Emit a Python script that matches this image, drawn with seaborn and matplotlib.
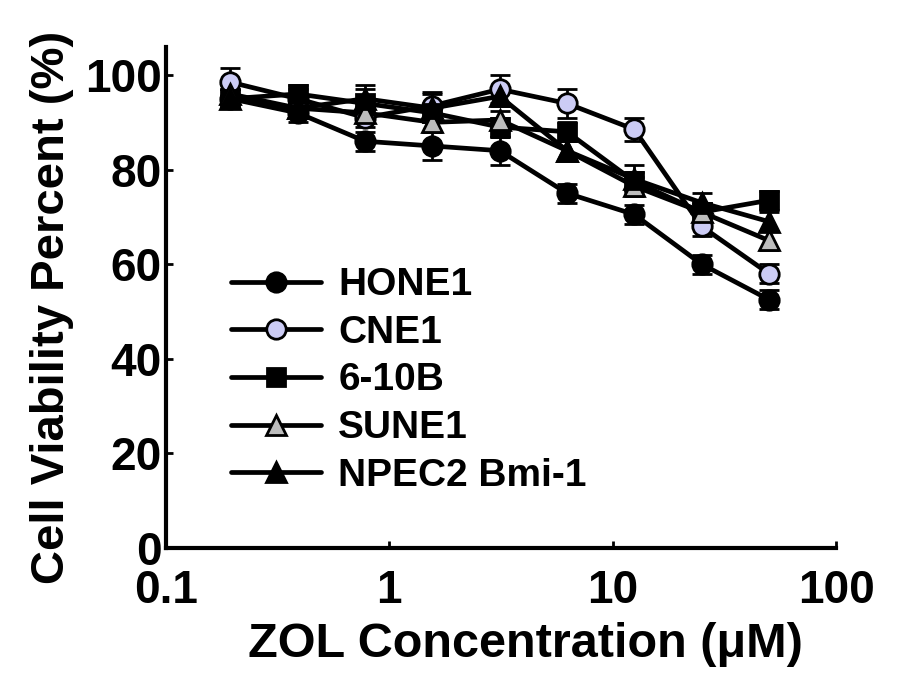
import pandas as pd
import seaborn as sns
import matplotlib.pyplot as plt

# Data
conc = [0.195, 0.39, 0.78, 1.56, 3.125, 6.25, 12.5, 25, 50]
hone1 = [95, 92, 86, 85, 84, 75, 70.5, 60, 52.5]
cne1 = [98.5, 95, 91, 93.5, 97, 94, 88.5, 68, 58]
b610 = [95, 96, 94, 92, 89, 88, 77.5, 71, 73.5]
sune1 = [96, 93, 92, 90, 90.5, 84, 76.5, 71, 65]
npec2 = [95, 93, 95, 93, 95.5, 84, 78, 73, 69]

hone1_sd = [2, 2, 2, 3, 3, 2, 2, 2, 2]
cne1_sd = [3, 2, 2, 3, 3, 3, 2.5, 2, 2]
b610_sd = [2, 2, 3, 2, 2, 2, 2, 2, 2]
sune1_sd = [2, 2, 2, 2, 2, 2, 2, 2, 2]
npec2_sd = [2, 2, 3, 3, 2, 2, 3, 2, 2]

names = ['HONE1', 'CNE1', '6-10B', 'SUNE1', 'NPEC2 Bmi-1']
values = [hone1, cne1, b610, sune1, npec2]
errors = [hone1_sd, cne1_sd, b610_sd, sune1_sd, npec2_sd]
markers = ['o', 'o', 's', '^', '^']
faces = ['black', '#ccccf5', 'black', '#bdbdbd', 'black']

sns.set_style("ticks")
plt.rcParams['font.family'] = ['Liberation Sans', 'DejaVu Sans']
plt.rcParams['font.weight'] = 'bold'
plt.rcParams['text.color'] = 'black'
plt.rcParams['axes.labelcolor'] = 'black'
plt.rcParams['xtick.color'] = 'black'
plt.rcParams['ytick.color'] = 'black'
plt.rcParams['axes.edgecolor'] = 'black'

fig = plt.figure(figsize=(9, 6.77), dpi=100)
ax = fig.add_axes([0.184, 0.191, 0.745, 0.74])

for name, vals, err, mk, fc in zip(names, values, errors, markers, faces):
    df = pd.DataFrame({'conc': conc, 'viab': vals})
    ax.errorbar(conc, vals, yerr=err, fmt='none', ecolor='black',
                elinewidth=2, capsize=7, capthick=2, zorder=1)
    sns.lineplot(data=df, x='conc', y='viab', ax=ax, color='black',
                 linewidth=3.4, marker=mk, markersize=14 if mk != 's' else 13,
                 markerfacecolor=fc, markeredgecolor='black',
                 markeredgewidth=2, label=name, zorder=2)

ax.set_xscale('log')
ax.set_xlim(0.1, 100)
ax.set_ylim(0, 106)
ax.set_yticks([0, 20, 40, 60, 80, 100])
ax.set_xticks([0.1, 1, 10, 100])
ax.set_xticklabels(['0.1', '1', '10', '100'])
ax.minorticks_off()
ax.tick_params(direction='in', length=5, width=2, labelsize=33)
ax.tick_params(axis='x', pad=15)
ax.tick_params(axis='y', pad=3)
for lab in ax.get_xticklabels() + ax.get_yticklabels():
    lab.set_fontweight('bold')

for side in ['top', 'right']:
    ax.spines[side].set_visible(False)
for side in ['left', 'bottom']:
    ax.spines[side].set_linewidth(3)

ax.set_xlabel('ZOL Concentration (\u03bcM)', fontsize=35, fontweight='bold')
ax.set_ylabel('Cell Viability Percent (%)', fontsize=34, fontweight='bold')
ax.xaxis.set_label_coords(0.536, -0.148)
ax.yaxis.set_label_coords(-0.137, 0.48)

leg = ax.legend(loc='upper left', bbox_to_anchor=(0.098, 0.56), frameon=False,
                fontsize=28, handlelength=2.3, handletextpad=0.45,
                labelspacing=0.3, borderaxespad=0, borderpad=0)
for t in leg.get_texts():
    t.set_fontweight('bold')

fig.savefig('out.png', dpi=100)
